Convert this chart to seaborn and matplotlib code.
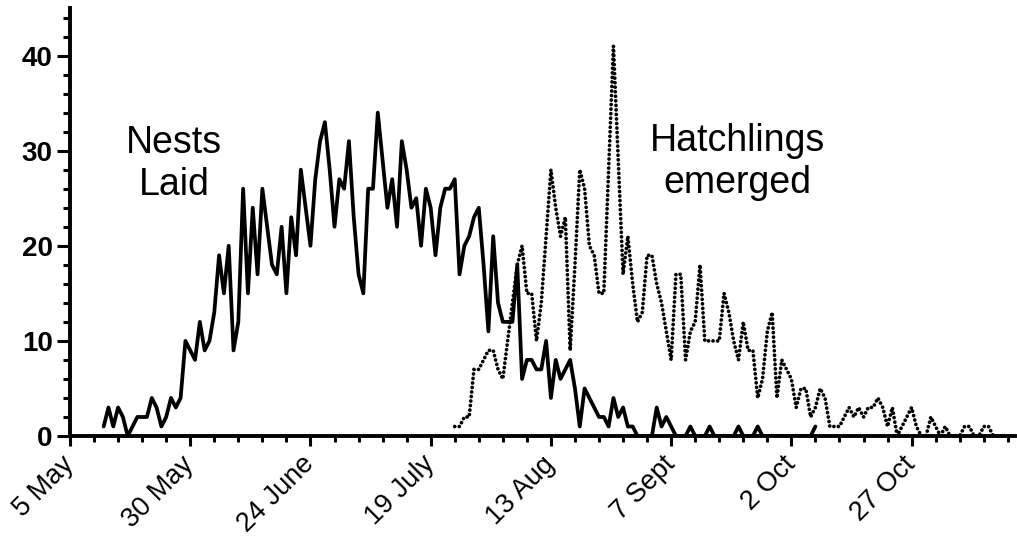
import numpy as np
import pandas as pd
import matplotlib
matplotlib.use("Agg")
import matplotlib.pyplot as plt
from matplotlib.ticker import MultipleLocator
import seaborn as sns

# ---------------- data ----------------
tick_labels = ["5 May", "30 May", "24 June", "19 July", "13 Aug", "7 Sept", "2 Oct", "27 Oct"]

nests_start_day = 7   # days after 5 May
nests_laid = [1, 3, 1, 3, 2, 0, 1, 2, 2, 2, 4, 3, 1, 2, 4, 3, 4,           # 7-23
              10, 9, 8, 12, 9, 10, 13, 19, 15, 20, 9, 12,                 # 24-35
              26, 15, 24, 17, 26, 22, 18, 17, 22, 15, 23, 19,             # 36-47
              28, 24, 20, 27, 31, 33, 28, 22, 27, 26, 31, 23,             # 48-59
              17, 15, 26, 26, 34, 29, 24, 27, 22, 31, 28, 24,             # 60-71
              25, 20, 26, 24, 19, 24, 26, 26, 27, 17, 20, 21,             # 72-83
              23, 24, 18, 11, 21, 14, 12, 12, 12, 18, 6, 8,               # 84-95
              8, 7, 7, 10, 4, 8, 6, 7, 8, 5, 1, 5,                        # 96-107
              4, 3, 2, 2, 1, 4, 2, 3, 1, 1, 0, 0,                         # 108-119
              0, 0, 3, 1, 2, 1, 0, 0, 0, 1, 0, 0,                         # 120-131
              0, 1, 0, 0, 0, 0, 0, 1, 0, 0, 0, 1,                         # 132-143
              0, 0, 0, 0, 0, 0, 0, 0, 0, 0, 0, 1]                         # 144-155

hatch_start_day = 80
hatchlings = [1, 1, 2, 2, 7, 7, 8, 9, 9, 7, 6, 10,                        # 80-91
              14, 18, 20, 15, 15, 10, 14, 21, 28, 24, 21, 23,             # 92-103
              9, 18, 28, 26, 20, 19, 15, 15, 28, 41, 29, 17,              # 104-115
              21, 16, 12, 13, 19, 19, 16, 14, 11, 8, 17, 17,              # 116-127
              8, 11, 12, 18, 10, 10, 10, 10, 15, 13, 10, 8,               # 128-139
              12, 9, 9, 4, 6, 11, 13, 4, 8, 7, 6, 3,                      # 140-151
              5, 5, 2, 3, 5, 4, 1, 1, 1, 2, 3, 2,                         # 152-163
              3, 2, 3, 3, 4, 3, 1, 3, 0, 1, 2, 3,                         # 164-175
              1, 0, 0, 2, 1, 0, 1, 0, 0, 0, 1, 1,                         # 176-187
              0, 0, 1, 1, 0, 0, 0, 0]                                     # 188-195

nests_df = pd.DataFrame({"day": np.arange(nests_start_day, nests_start_day + len(nests_laid)),
                         "count": nests_laid})
hatch_df = pd.DataFrame({"day": np.arange(hatch_start_day, hatch_start_day + len(hatchlings)),
                         "count": hatchlings})

# ---------------- figure ----------------
sns.set_style("ticks")
plt.rcParams["font.family"] = ["Liberation Sans", "DejaVu Sans"]
plt.rcParams["text.color"] = "black"
plt.rcParams["xtick.color"] = "black"
plt.rcParams["ytick.color"] = "black"
plt.rcParams["axes.edgecolor"] = "black"

W, H = 1017, 541
fig = plt.figure(figsize=(W / 100, H / 100), dpi=100)
ax = fig.add_axes([70 / W, 1 - 436 / H, (1015 - 70) / W, (436 - 8) / H])

sns.lineplot(data=nests_df, x="day", y="count", ax=ax, color="black",
             linewidth=2.7, estimator=None)
sns.lineplot(data=hatch_df, x="day", y="count", ax=ax, color="black",
             linewidth=2.7, linestyle=(0, (0.01, 1.2)), dash_capstyle="round",
             estimator=None)

ax.set_xlim(0, 196.5)
ax.set_ylim(0, 45)
ax.set_xlabel("")
ax.set_ylabel("")

ax.set_xticks(np.arange(len(tick_labels)) * 25)
ax.set_xticklabels(tick_labels, rotation=45, ha="right", va="center",
                   rotation_mode="anchor", fontsize=19.5)
ax.xaxis.set_minor_locator(MultipleLocator(5))
ax.set_yticks([0, 10, 20, 30, 40])
ax.set_yticklabels(["0", "10", "20", "30", "40"], fontsize=20, fontweight="bold")
ax.yaxis.set_minor_locator(MultipleLocator(2))

ax.tick_params(axis="x", which="major", length=7.5, width=2.2, pad=10)
ax.tick_params(axis="x", which="minor", length=4, width=2.2)
ax.tick_params(axis="y", which="major", length=9.5, width=2.2, pad=3)
ax.tick_params(axis="y", which="minor", length=5, width=2.2)

for s in ["top", "right"]:
    ax.spines[s].set_visible(False)
for s in ["left", "bottom"]:
    ax.spines[s].set_linewidth(2.8)

ax.text(21.7, 32.7, "Nests\nLaid", ha="center", va="top", fontsize=27,
        linespacing=1.2)
ax.text(138.7, 32.9, "Hatchlings\nemerged", ha="center", va="top", fontsize=27,
        linespacing=1.2)

fig.savefig("out.png", dpi=100)
